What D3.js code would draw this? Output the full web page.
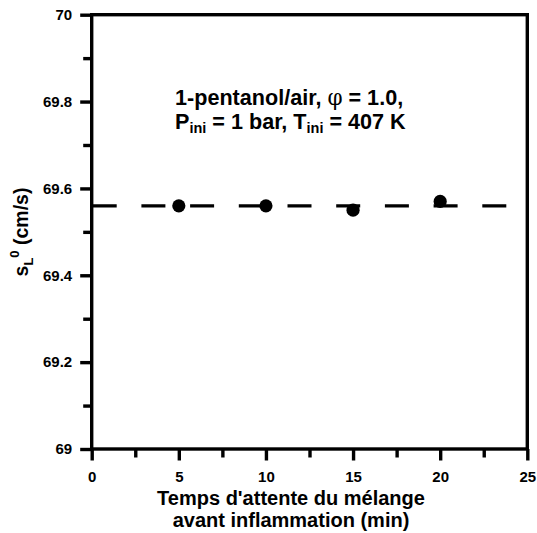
<!DOCTYPE html>
<html>
<head>
<meta charset="utf-8">
<script src="https://cdn.jsdelivr.net/npm/d3@7"></script>
<style>
  html, body { margin: 0; padding: 0; background: #fff; }
  svg text { font-family: "Liberation Sans", Arial, sans-serif; font-weight: bold; fill: #000; }
</style>
</head>
<body>
<svg id="chart" width="537" height="533"></svg>
<script>
// ---- data ----
const waitTimes = [5, 10, 15, 20];                 // min
const flameSpeeds = [69.56, 69.56, 69.55, 69.57];  // cm/s
const meanSpeed = [69.56, 69.56];                  // dashed reference line
const meanSpan = [0, 25];
const xTicks = [0, 5, 10, 15, 20, 25];
const xTickLabels = ["0", "5", "10", "15", "20", "25"];
const xMinorTicks = [2.5, 7.5, 12.5, 17.5, 22.5];
const yTicks = [69, 69.2, 69.4, 69.6, 69.8, 70];
const yTickLabels = ["69", "69.2", "69.4", "69.6", "69.8", "70"];
const yMinorTicks = [69.1, 69.3, 69.5, 69.7, 69.9];

const svg = d3.select("#chart");
const L = 91.7, R = 527.3, T = 14.7, B = 449;
const x = d3.scaleLinear().domain([0, 25]).range([L, R]);
const y = d3.scaleLinear().domain([69, 70]).range([B, T]);
const SW = 3.4;

// minor ticks
svg.append("g").attr("transform", `translate(0,${B})`)
  .call(d3.axisBottom(x).tickValues(xMinorTicks).tickSize(8.5).tickSizeOuter(0).tickFormat(""))
  .call(g => g.select(".domain").remove())
  .call(g => g.selectAll("line").attr("stroke", "#000").attr("stroke-width", SW));
svg.append("g").attr("transform", `translate(${L},0)`)
  .call(d3.axisLeft(y).tickValues(yMinorTicks).tickSize(8.5).tickSizeOuter(0).tickFormat(""))
  .call(g => g.select(".domain").remove())
  .call(g => g.selectAll("line").attr("stroke", "#000").attr("stroke-width", SW));

// major ticks + labels
svg.append("g").attr("transform", `translate(0,${B})`)
  .call(d3.axisBottom(x).tickValues(xTicks).tickSize(11.5).tickSizeOuter(0).tickPadding(11)
    .tickFormat((d, i) => xTickLabels[i]))
  .call(g => g.select(".domain").remove())
  .call(g => g.selectAll("line").attr("stroke", "#000").attr("stroke-width", SW))
  .call(g => g.selectAll("text").attr("font-size", 15).attr("font-family", "Liberation Sans, Arial").attr("font-weight", "bold").attr("fill", "#000"));
svg.append("g").attr("transform", `translate(${L},0)`)
  .call(d3.axisLeft(y).tickValues(yTicks).tickSize(11.5).tickSizeOuter(0).tickPadding(8)
    .tickFormat((d, i) => yTickLabels[i]))
  .call(g => g.select(".domain").remove())
  .call(g => g.selectAll("line").attr("stroke", "#000").attr("stroke-width", SW))
  .call(g => g.selectAll("text").attr("font-size", 15).attr("font-family", "Liberation Sans, Arial").attr("font-weight", "bold").attr("fill", "#000"));

// frame
svg.append("rect").attr("x", L).attr("y", T).attr("width", R - L).attr("height", B - T)
  .attr("fill", "none").attr("stroke", "#000").attr("stroke-width", SW);

// dashed mean line
svg.append("line")
  .attr("x1", x(meanSpan[0]) + 1).attr("x2", x(meanSpan[1]))
  .attr("y1", y(meanSpeed[0])).attr("y2", y(meanSpeed[1]))
  .attr("stroke", "#000").attr("stroke-width", 3.2).attr("stroke-dasharray", "24,24.7");

// points
svg.append("g").selectAll("circle").data(waitTimes).join("circle")
  .attr("cx", d => x(d)).attr("cy", (d, i) => y(flameSpeeds[i])).attr("r", 6.6).attr("fill", "#000");

// annotation
const ann = svg.append("g");
const t1 = ann.append("text").attr("x", 175).attr("y", 105).attr("font-size", 21.6);
t1.append("tspan").text("1-pentanol/air, ");
t1.append("tspan").text("φ").attr("font-family", "DejaVu Serif, serif").attr("font-weight", "normal")
  .attr("font-size", 21.6).attr("fill", "#000").style("fill", "#000");
t1.append("tspan").text(" = 1.0,");
const t2 = ann.append("text").attr("x", 175).attr("y", 129).attr("font-size", 21.6);
t2.append("tspan").text("P");
t2.append("tspan").text("ini").attr("font-size", 14.5).attr("dy", 4);
t2.append("tspan").text(" = 1 bar, T").attr("dy", -4);
t2.append("tspan").text("ini").attr("font-size", 14.5).attr("dy", 4);
t2.append("tspan").text(" = 407 K").attr("dy", -4);

// x title
svg.append("text").attr("x", 291).attr("y", 505).attr("text-anchor", "middle").attr("font-size", 20)
  .text("Temps d'attente du mélange");
svg.append("text").attr("x", 291).attr("y", 527).attr("text-anchor", "middle").attr("font-size", 20)
  .text("avant inflammation (min)");

// y title
const yt = svg.append("text").attr("transform", "translate(28,232) rotate(-90)")
  .attr("text-anchor", "middle").attr("font-size", 19.5);
yt.append("tspan").text("s");
yt.append("tspan").text("L").attr("font-size", 13).attr("dy", 5);
yt.append("tspan").text("0").attr("font-size", 13).attr("dy", -14);
yt.append("tspan").text(" (cm/s)").attr("dy", 9);
</script>
</body>
</html>
